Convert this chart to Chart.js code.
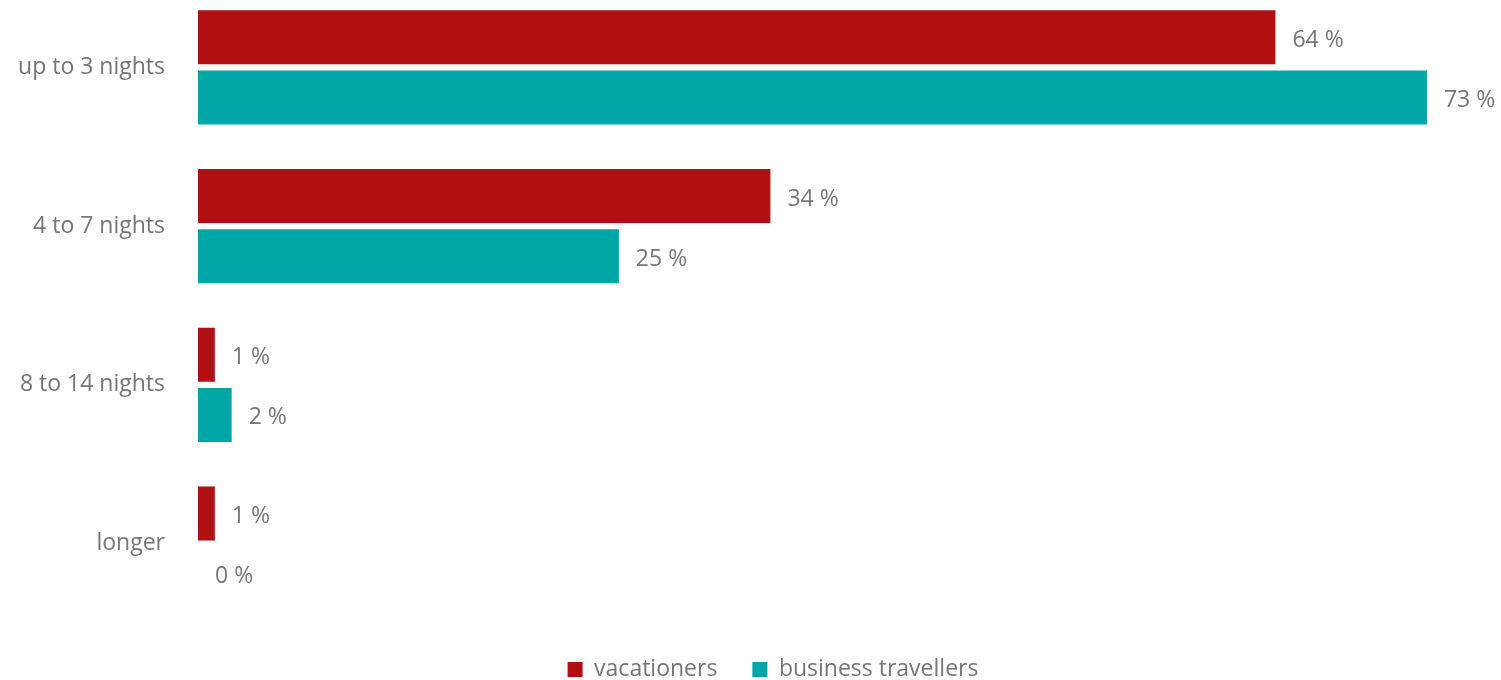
<!DOCTYPE html>
<html>
<head>
<meta charset="utf-8">
<script src="https://cdn.jsdelivr.net/npm/chart.js@4/dist/chart.umd.min.js"></script>
<style>
  html, body { margin: 0; padding: 0; background: #fff; overflow: hidden; }
  #wrap { width: 1501px; height: 680px; overflow: hidden; }
  /* Plotfläche beginnt leicht oberhalb des sichtbaren Bereichs */
  #stayChart { display: block; margin-top: -12px; }
</style>
</head>
<body>
<div id="wrap"><canvas id="stayChart" width="1501" height="692"></canvas></div>
<script>
// Länge des Aufenthalts, Anteile in %
const categories = ['up to 3 nights', '4 to 7 nights', '8 to 14 nights', 'longer'];
const vacationers = [64, 34, 1, 1];
const business = [73, 25, 2, 0];

const grey = '#767676';
const fontFamily = '"Open Sans", Lato, sans-serif';
const fontSize = 23;

// Werte rechts neben die Balken schreiben
const valueLabels = {
    id: 'valueLabels',
    afterDatasetsDraw(chart) {
        const ctx = chart.ctx;
        ctx.save();
        ctx.font = fontSize + 'px ' + fontFamily;
        ctx.fillStyle = grey;
        ctx.textAlign = 'left';
        ctx.textBaseline = 'middle';
        chart.data.datasets.forEach((ds, i) => {
            chart.getDatasetMeta(i).data.forEach((bar, j) => {
                ctx.fillText(ds.data[j] + ' %', bar.x + 17, bar.y + 3);
            });
        });
        ctx.restore();
    }
};

// Innenabstände der Achsen ignorieren, damit die Plotfläche bis an den Rand reicht
function trimPadding(scale) {
    scale.paddingTop = 0;
    scale.paddingBottom = -100;
    scale.paddingRight = -100;
}

const ctx = document.getElementById('stayChart').getContext('2d');
new Chart(ctx, {
    type: 'bar',
    data: {
        labels: categories,
        datasets: [
            { label: 'vacationers', data: vacationers, backgroundColor: '#B20F12' },
            { label: 'business travellers', data: business, backgroundColor: '#00A7A7' }
        ]
    },
    options: {
        indexAxis: 'y',
        responsive: false,
        animation: false,
        categoryPercentage: 0.757,
        barPercentage: 0.9,
        // negatives Padding rechts schiebt die Legende etwas nach rechts
        layout: { padding: { top: 0, right: -45, bottom: -11, left: 0 } },
        scales: {
            x: {
                display: false,
                min: 0,
                max: 77.4,
                afterFit: trimPadding
            },
            y: {
                grid: { display: false },
                border: { display: false },
                ticks: {
                    color: grey,
                    padding: 25,
                    font: { size: fontSize, family: fontFamily }
                },
                afterFit(scale) {
                    scale.width = 198;
                    trimPadding(scale);
                }
            }
        },
        plugins: {
            legend: {
                position: 'bottom',
                labels: {
                    boxWidth: 15,
                    boxHeight: 15,
                    padding: 35,
                    color: grey,
                    font: { size: fontSize, family: fontFamily }
                }
            },
            tooltip: { enabled: false }
        }
    },
    plugins: [valueLabels]
});
</script>
</body>
</html>
